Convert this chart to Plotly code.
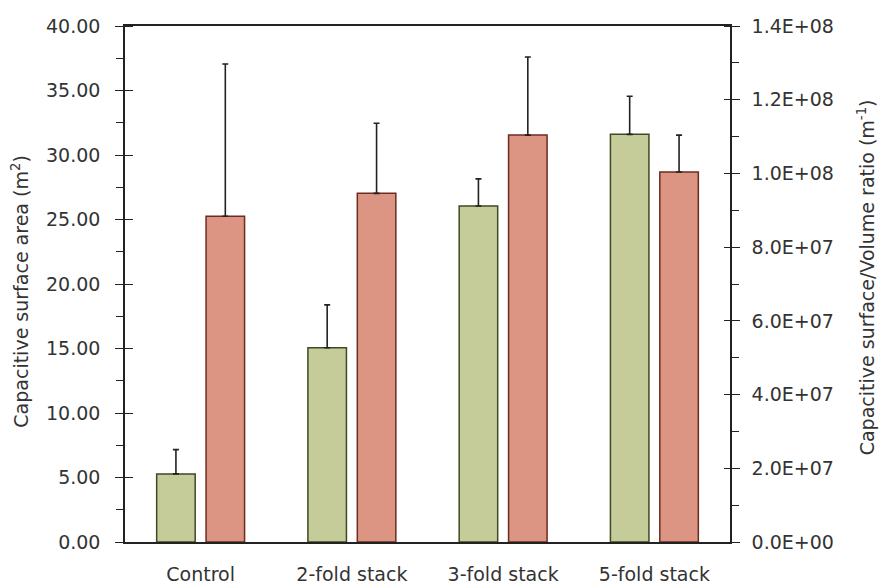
import plotly.graph_objects as go

# Sample groups
categories = ["Control", "2-fold stack", "3-fold stack", "5-fold stack"]

# Capacitive surface area (m^2), left axis
area = [5.28, 15.06, 26.05, 31.6]
area_err = [1.88, 3.32, 2.10, 2.95]

# Capacitive surface / volume ratio (m^-1), right axis
ratio = [8.84e7, 9.46e7, 1.104e8, 1.004e8]
ratio_err = [4.13e7, 1.90e7, 2.12e7, 1.00e7]

left_ticks = [0, 5, 10, 15, 20, 25, 30, 35, 40]
right_ticks = [0, 2e7, 4e7, 6e7, 8e7, 1e8, 1.2e8, 1.4e8]
right_labels = ["0.0E+00", "2.0E+07", "4.0E+07", "6.0E+07", "8.0E+07",
                "1.0E+08", "1.2E+08", "1.4E+08"]

FONT = "DejaVu Sans"
TXT = "#333333"
AX = "#222222"

fig = go.Figure()

fig.add_trace(go.Bar(
    x=categories, y=area, yaxis="y", name="Surface area",
    marker=dict(color="#c5cc99", line=dict(color="#3e4a24", width=1.5)),
    error_y=dict(type="data", array=area_err, arrayminus=[0] * 4, symmetric=False,
                 color=AX, thickness=1.6, width=3),
    alignmentgroup="a", offsetgroup="g1",
))
fig.add_trace(go.Bar(
    x=categories, y=ratio, yaxis="y2", name="Surface/Volume",
    marker=dict(color="#dc9483", line=dict(color="#6c2c20", width=1.5)),
    error_y=dict(type="data", array=ratio_err, arrayminus=[0] * 4, symmetric=False,
                 color=AX, thickness=1.6, width=3),
    alignmentgroup="a", offsetgroup="g2",
))

# invisible copies of the data so the tick-only axes get drawn
fig.add_trace(go.Scatter(x=categories, y=area, yaxis="y3", mode="markers",
                         marker=dict(opacity=0), showlegend=False, hoverinfo="skip"))
fig.add_trace(go.Scatter(x=categories, y=ratio, yaxis="y4", mode="markers",
                         marker=dict(opacity=0), showlegend=False, hoverinfo="skip"))

tickfont = dict(family=FONT, size=19, color=TXT)
titlefont = dict(family=FONT, size=19, color=TXT)

fig.update_layout(
    width=880, height=585,
    margin=dict(l=125, r=150, t=26, b=42.5),
    paper_bgcolor="white", plot_bgcolor="white",
    showlegend=False,
    barmode="group", bargap=0.347, bargroupgap=0.22,
    font=dict(family=FONT, color=TXT),
    xaxis=dict(
        showline=True, linecolor=AX, linewidth=1.5, mirror=True, automargin=False,
        ticks="", showgrid=False, tickfont=dict(family=FONT, size=19, color=TXT),
        ticklabelstandoff=14,
    ),
    yaxis=dict(
        range=[0, 40], tickvals=left_ticks, ticktext=[f"{v:.2f}" for v in left_ticks],
        showline=True, linecolor=AX, linewidth=1.5, showgrid=False, zeroline=False,
        automargin=False,
        ticks="outside", ticklen=8, tickwidth=1.2, tickcolor=AX,
        minor=dict(dtick=2.5, ticks="outside", ticklen=7, tickwidth=1.2, tickcolor=AX),
        tickfont=tickfont, ticklabelstandoff=11,
    ),
    yaxis2=dict(
        range=[0, 1.4e8], overlaying="y", side="right",
        tickvals=right_ticks, ticktext=right_labels,
        showline=True, linecolor=AX, linewidth=1.5, showgrid=False, zeroline=False,
        automargin=False,
        ticks="outside", ticklen=8, tickwidth=1.2, tickcolor=AX,
        minor=dict(dtick=1e7, ticks="outside", ticklen=7, tickwidth=1.2, tickcolor=AX),
        tickfont=tickfont, ticklabelstandoff=8,
    ),
    # inner halves of the major ticks: free axes set just inside the frame
    yaxis3=dict(
        range=[0, 40], overlaying="y", side="left", anchor="free", position=0.0132,
        tickvals=left_ticks, showticklabels=False, showline=False, showgrid=False,
        zeroline=False, automargin=False,
        ticks="outside", ticklen=8, tickwidth=1.2, tickcolor=AX,
    ),
    yaxis4=dict(
        range=[0, 1.4e8], overlaying="y", side="right", anchor="free", position=0.9884,
        tickvals=right_ticks, showticklabels=False, showline=False, showgrid=False,
        zeroline=False, automargin=False,
        ticks="outside", ticklen=8, tickwidth=1.2, tickcolor=AX,
    ),
    annotations=[
        dict(text="Capacitive surface area (m<sup>2</sup>)", textangle=-90,
             xref="paper", yref="paper", x=-0.1736, y=0.487, showarrow=False,
             xanchor="center", yanchor="middle", font=titlefont),
        dict(text="Capacitive surface/Volume ratio (m<sup>-1</sup>)", textangle=-90,
             xref="paper", yref="paper", x=1.2248, y=0.513, showarrow=False,
             xanchor="center", yanchor="middle", font=titlefont),
    ],
)

fig.write_html("out.html")
